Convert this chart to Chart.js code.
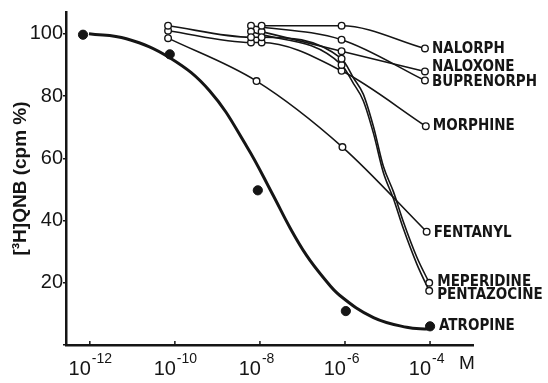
<!DOCTYPE html>
<html>
<head>
<meta charset="utf-8">
<script src="https://cdn.jsdelivr.net/npm/chart.js@4.4.1/dist/chart.umd.min.js"></script>
<style>
html, body { margin: 0; padding: 0; background: #fff; }
#wrap { width: 548px; height: 383px; }
</style>
</head>
<body>
<div id="wrap"><canvas id="c"></canvas></div>
<script>
// x values are log10 of the molar concentration
const xTicks = [-12, -10, -8, -6, -4];

const atropineX = [-12.16, -10.12, -8.05, -5.98, -4.0];
const atropineY = [99.7, 93.4, 49.7, 10.9, 6.0];
const atropineFitX = [-12.02, -11.14, -10.12, -9.18, -8.31, -7.69, -7.29, -6.9, -6.51, -6.12, -5.33, -4.55, -4.05];
const atropineFitY = [100, 98.4, 92.3, 81.6, 63.8, 48.1, 37.6, 28.7, 21.7, 15.9, 8.8, 5.7, 5.1];

const nalorphX = [-7.96, -6.08, -4.12];
const nalorphY = [102.6, 102.6, 95.3];
const naloxoneX = [-7.96, -6.08, -4.12];
const naloxoneY = [100.7, 94.4, 87.9];
const buprenorphX = [-8.21, -6.08, -4.12];
const buprenorphY = [102.6, 98.1, 85.0];
const morphineX = [-10.16, -8.21, -7.96, -6.08, -4.1];
const morphineY = [101.0, 97.2, 97.2, 88.1, 70.3];
const fentanylX = [-10.16, -8.08, -6.06, -4.08];
const fentanylY = [98.6, 84.8, 63.6, 36.4];

const meperidineX = [-10.16, -8.21, -7.96, -6.08, -4.02];
const meperidineY = [102.6, 98.9, 98.9, 92.0, 20.0];
const meperidineCurveX = [-10.16, -8.21, -7.96, -6.08, -5.8, -5.57, -5.33, -5.1, -4.86, -4.63, -4.31, -4.02];
const meperidineCurveY = [102.6, 98.9, 98.9, 92.0, 85.8, 80.6, 70.1, 57.5, 49.2, 39.7, 28.2, 20.0];

const pentazocineX = [-8.21, -6.08, -4.02];
const pentazocineY = [100.7, 90.0, 17.4];
const pentazocineCurveX = [-8.21, -6.08, -5.8, -5.57, -5.33, -5.1, -4.86, -4.63, -4.31, -4.02];
const pentazocineCurveY = [100.7, 90.0, 84.0, 78.5, 68.0, 55.5, 47.0, 37.5, 26.0, 17.4];

const pts = (xs, ys) => xs.map((x, i) => ({ x: x, y: ys[i] }));
const ink = '#151515';

const openLine = (label, xs, ys, dy) => ({
    label: label,
    data: pts(xs, ys),
    borderColor: ink,
    borderWidth: 1.6,
    pointRadius: 3.3,
    pointBorderWidth: 1.4,
    pointBackgroundColor: '#fff',
    pointBorderColor: ink,
    cubicInterpolationMode: 'monotone',
    endLabel: { dx: 7, dy: dy }
});

const markersOnly = (label, xs, ys, dy) => ({
    label: label,
    data: pts(xs, ys),
    showLine: false,
    pointRadius: 3.3,
    pointBorderWidth: 1.4,
    pointBackgroundColor: '#fff',
    pointBorderColor: ink,
    endLabel: { dx: 8, dy: dy }
});

const curveOnly = (label, xs, ys, width, mode) => ({
    label: label,
    data: pts(xs, ys),
    borderColor: ink,
    borderWidth: width,
    pointRadius: 0,
    tension: 0.4,
    cubicInterpolationMode: mode
});

const endLabels = {
    id: 'endLabels',
    afterDatasetsDraw(chart) {
        const ctx = chart.ctx;
        ctx.save();
        ctx.fillStyle = ink;
        ctx.font = 'bold 15px "DejaVu Sans Condensed", "DejaVu Sans", sans-serif';
        ctx.textBaseline = 'middle';
        ctx.textAlign = 'left';
        chart.data.datasets.forEach((ds, i) => {
            if (!ds.endLabel) return;
            const els = chart.getDatasetMeta(i).data;
            const p = els[els.length - 1];
            ctx.fillText(ds.label, p.x + ds.endLabel.dx, p.y + ds.endLabel.dy);
        });

        // x axis: inner tick marks and 10^n labels
        const xs = chart.scales.x;
        const bottom = chart.chartArea.bottom;
        ctx.strokeStyle = ink;
        ctx.lineWidth = 1.5;
        ctx.textBaseline = 'alphabetic';
        xTicks.forEach(v => {
            const px = xs.getPixelForValue(v);
            ctx.beginPath();
            ctx.moveTo(px, bottom);
            ctx.lineTo(px, bottom - 4);
            ctx.stroke();
            ctx.font = '20px "Liberation Sans Narrow", "Liberation Sans", sans-serif';
            ctx.textAlign = 'right';
            ctx.fillText('10', px + 1, 375);
            ctx.font = '14px "Liberation Sans Narrow", "Liberation Sans", sans-serif';
            ctx.textAlign = 'left';
            ctx.fillText('-' + Math.abs(v), px + 2, 363);
        });
        ctx.font = '19px "Liberation Sans", sans-serif';
        ctx.textAlign = 'left';
        ctx.fillText('M', 459, 369);
        ctx.restore();
    }
};

new Chart(document.getElementById('c'), {
    type: 'line',
    data: {
        datasets: [
            {
                label: 'ATROPINE',
                data: pts(atropineX, atropineY),
                showLine: false,
                pointRadius: 4.6,
                pointBackgroundColor: ink,
                pointBorderColor: ink,
                endLabel: { dx: 9, dy: 0 }
            },
            markersOnly('MEPERIDINE', meperidineX, meperidineY, -1),
            markersOnly('PENTAZOCINE', pentazocineX, pentazocineY, 4),
            openLine('NALORPH', nalorphX, nalorphY, 1),
            openLine('NALOXONE', naloxoneX, naloxoneY, -4),
            openLine('BUPRENORPH', buprenorphX, buprenorphY, 2),
            openLine('MORPHINE', morphineX, morphineY, 0),
            openLine('FENTANYL', fentanylX, fentanylY, 1),
            curveOnly('meperidine curve', meperidineCurveX, meperidineCurveY, 1.6, 'monotone'),
            curveOnly('pentazocine curve', pentazocineCurveX, pentazocineCurveY, 1.6, 'monotone'),
            curveOnly('atropine fit', atropineFitX, atropineFitY, 3, 'default')
        ]
    },
    options: {
        responsive: true,
        maintainAspectRatio: false,
        animation: false,
        layout: { padding: { top: 5, right: 75, left: 0, bottom: 0 } },
        plugins: {
            legend: { display: false },
            tooltip: { enabled: false }
        },
        scales: {
            x: {
                type: 'linear',
                min: -12.56,
                max: -2.99,
                grid: { display: false },
                ticks: { display: false },
                border: { display: true, color: ink, width: 2.5 },
                afterFit: s => { s.height = 38; }
            },
            y: {
                min: 0,
                max: 107,
                ticks: {
                    stepSize: 20,
                    includeBounds: false,
                    padding: 0,
                    color: ink,
                    font: { family: '"Liberation Sans", sans-serif', size: 20 },
                    callback: v => (v === 0 ? '' : v)
                },
                grid: { drawOnChartArea: false, tickLength: 3, color: ink, lineWidth: 1.5 },
                border: { display: true, color: ink, width: 2.5 },
                title: {
                    display: true,
                    text: '[³H]QNB (cpm %)',
                    color: ink,
                    font: { family: '"Liberation Sans", sans-serif', size: 19, weight: 'bold' },
                    padding: { top: 9, bottom: 0 }
                },
                afterFit: s => { s.width = 66; }
            }
        }
    },
    plugins: [endLabels]
});
</script>
</body>
</html>
